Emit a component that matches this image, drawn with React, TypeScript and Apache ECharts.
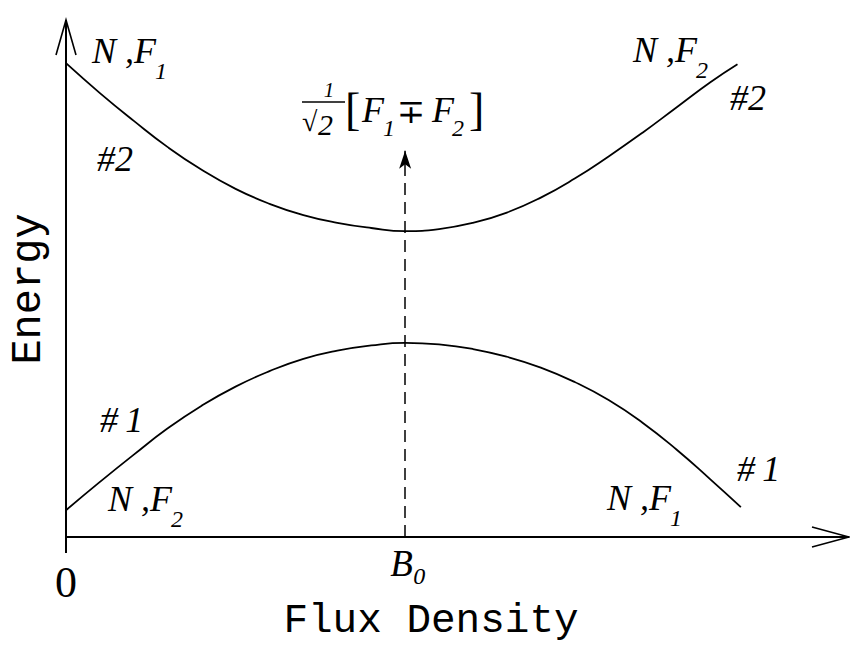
import React, { useEffect, useRef } from 'react';
import * as echarts from 'echarts';

// Flux density in units of B0, energy in arbitrary units
const upperFlux = [0, 0.1, 0.2, 0.3, 0.4, 0.5, 0.6, 0.7, 0.8, 0.9, 1.0, 1.1, 1.2, 1.3, 1.4, 1.5, 1.6, 1.7, 1.8, 1.9, 1.98];
const upperEnergy = [9.2, 8.62, 8.08, 7.57, 7.13, 6.76, 6.47, 6.25, 6.1, 6.0, 5.94, 5.98, 6.1, 6.3, 6.59, 6.96, 7.39, 7.85, 8.34, 8.83, 9.18];

const lowerFlux = [0, 0.1, 0.2, 0.3, 0.4, 0.5, 0.6, 0.7, 0.8, 0.9, 1.0, 1.1, 1.2, 1.3, 1.4, 1.5, 1.6, 1.7, 1.8, 1.9, 1.99];
const lowerEnergy = [0.52, 1.07, 1.6, 2.11, 2.55, 2.92, 3.22, 3.46, 3.62, 3.72, 3.77, 3.74, 3.65, 3.5, 3.29, 3.01, 2.66, 2.22, 1.7, 1.12, 0.58];

// Vertical transition at B0
const transitionFlux = 1.0;
const transitionTop = 7.5;

const xTickValues = [0, 1];
const xTickLabels = ['0', 'B'];
const xTickSubs = ['', '0'];

const X_MAX = 2.3;
const Y_MAX = 10;

const SERIF = '"Liberation Serif", "DejaVu Serif", serif';
const MONO = '"Liberation Mono", "DejaVu Sans Mono", monospace';

const pairs = (xs: number[], ys: number[]) => xs.map((x, i) => [x, ys[i]]);

function txt(text: string, x: number, y: number, fontSize: number, o: any = {}) {
  return {
    type: 'text',
    x,
    y,
    rotation: o.rotation ?? 0,
    z: 10,
    silent: true,
    style: {
      text,
      fontSize,
      fontFamily: o.family ?? SERIF,
      fontStyle: o.italic === false ? 'normal' : 'italic',
      fill: '#000',
      align: o.align ?? 'left',
      verticalAlign: 'middle',
    },
  };
}

// "N ,F" state label with a subscript index
function stateLabel(left: number, cy: number, sub: string) {
  return [txt('N ,F', left, cy, 36), txt(sub, left + 63, cy + 20, 24)];
}

function line(x1: number, y1: number, x2: number, y2: number, w = 2) {
  return {
    type: 'line',
    silent: true,
    z: 10,
    shape: { x1, y1, x2, y2 },
    style: { stroke: '#000', lineWidth: w },
  };
}

function polyline(points: number[][], w = 1.6) {
  return {
    type: 'polyline',
    silent: true,
    z: 10,
    shape: { points },
    style: { stroke: '#000', lineWidth: w, fill: 'none' },
  };
}

export default function App() {
  const ref = useRef<HTMLDivElement>(null);

  useEffect(() => {
    if (!ref.current) return;
    const chart = echarts.init(ref.current, null, { renderer: 'svg' });

    const curveStyle = { color: '#000', width: 1.8 };

    chart.setOption({
      animation: false,
      backgroundColor: '#fff',
      grid: { left: 66, right: 4, top: 22, bottom: 109, containLabel: false, outerBoundsMode: 'none' },
      xAxis: {
        type: 'value',
        min: 0,
        max: X_MAX,
        axisLine: { show: true, lineStyle: { color: '#000', width: 2 } },
        axisTick: { show: false },
        axisLabel: { show: false },
        splitLine: { show: false },
      },
      yAxis: {
        type: 'value',
        min: 0,
        max: Y_MAX,
        axisLine: { show: true, lineStyle: { color: '#000', width: 2 } },
        axisTick: { show: false },
        axisLabel: { show: false },
        splitLine: { show: false },
      },
      series: [
        {
          name: '#2',
          type: 'line',
          data: pairs(upperFlux, upperEnergy),
          smooth: true,
          showSymbol: false,
          lineStyle: curveStyle,
          silent: true,
        },
        {
          name: '#1',
          type: 'line',
          data: pairs(lowerFlux, lowerEnergy),
          smooth: true,
          showSymbol: false,
          lineStyle: curveStyle,
          silent: true,
          markLine: {
            silent: true,
            symbol: ['none', 'arrow'],
            symbolSize: [9, 18],
            label: { show: false },
            lineStyle: { color: '#000', width: 1.5, type: [12, 7] },
            data: [[{ coord: [transitionFlux, 0] }, { coord: [transitionFlux, transitionTop] }]],
          },
        },
      ],
    });

    const tickGraphics: any[] = [];
    xTickValues.forEach((v, i) => {
      const [px] = chart.convertToPixel({ gridIndex: 0 }, [v, 0]) as number[];
      if (xTickSubs[i]) {
        tickGraphics.push(txt(xTickLabels[i], px - 15, 563, 37));
        tickGraphics.push(txt(xTickSubs[i], px + 8, 576, 24));
      } else {
        tickGraphics.push(txt(xTickLabels[i], px, 582, 44, { italic: false, align: 'center' }));
      }
    });

    const [ox, oy] = chart.convertToPixel({ gridIndex: 0 }, [0, 0]) as number[];
    const [, topY] = chart.convertToPixel({ gridIndex: 0 }, [0, Y_MAX]) as number[];
    const [rightX] = chart.convertToPixel({ gridIndex: 0 }, [X_MAX, 0]) as number[];

    chart.setOption({
      graphic: [
        // axis arrowheads and the short stub of the energy axis below the origin
        line(ox, topY, ox, topY - 2),
        polyline([[ox - 10, topY + 33], [ox, topY - 2], [ox + 10, topY + 33]]),
        line(ox, oy, ox, oy + 16),
        line(rightX, oy, rightX + 3, oy),
        polyline([[rightX - 34, oy - 10], [rightX + 3, oy], [rightX - 34, oy + 10]]),

        // state labels
        ...stateLabel(92, 51, '1'),
        ...stateLabel(633, 50, '2'),
        ...stateLabel(108, 499, '2'),
        ...stateLabel(607, 498, '1'),
        txt('#2', 97, 159, 36),
        txt('#2', 730, 98, 36),
        txt('#\u20091', 100, 420, 36),
        txt('#\u20091', 737, 469, 36),

        // mixed state at B0
        txt('1', 329, 90, 21, { align: 'center' }),
        line(302, 102, 345, 102, 1.5),
        txt('\u221A', 302, 121, 28, { italic: false }),
        txt('2', 318, 124, 30),
        txt('[', 345, 109, 46, { italic: false }),
        txt('F', 362, 110, 36),
        txt('1', 383, 128, 24),
        txt('\u2213', 411, 111, 34, { italic: false, align: 'center' }),
        txt('F', 432, 110, 36),
        txt('2', 452, 128, 24),
        txt(']', 469, 109, 46, { italic: false }),

        // tick labels and axis titles
        ...tickGraphics,
        txt('Flux Density', 431, 621, 41, { italic: false, family: MONO, align: 'center' }),
        txt('Energy', 29, 289, 42, { italic: false, family: MONO, align: 'center', rotation: Math.PI / 2 }),
      ],
    });

    return () => chart.dispose();
  }, []);

  return (
    <div
      ref={ref}
      style={{ position: 'fixed', left: 0, top: 0, width: 850, height: 646, background: '#fff' }}
    />
  );
}
